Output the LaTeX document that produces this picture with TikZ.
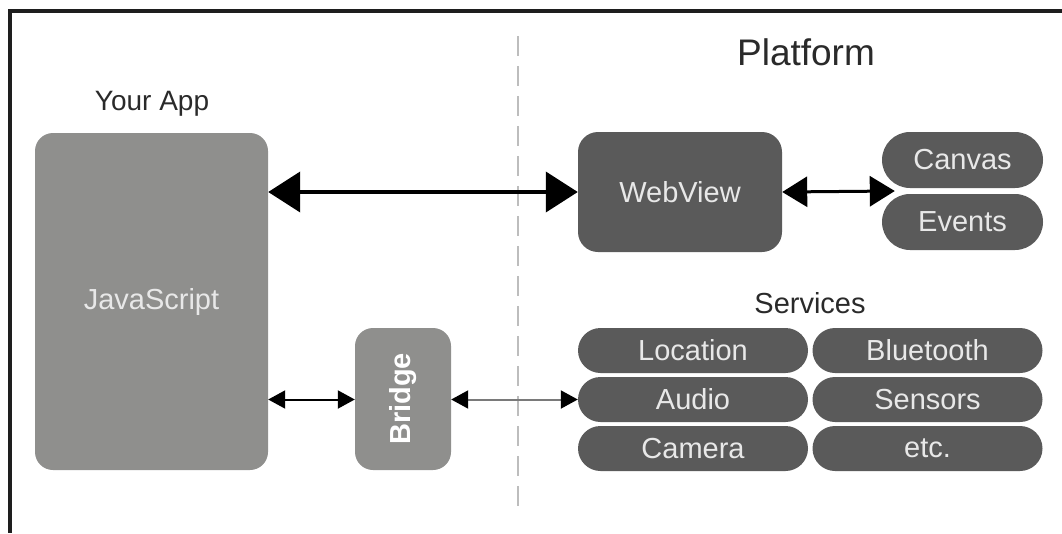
\documentclass[tikz,border=0pt]{standalone}
\usepackage{fontspec}
\setmainfont{Liberation Sans}
\usetikzlibrary{arrows.meta,shapes.misc,calc}
\definecolor{jsgray}{HTML}{8F8F8D}
\definecolor{pfgray}{HTML}{5A5A5A}
\definecolor{boxtext}{HTML}{E8E8E8}
\definecolor{labeltext}{HTML}{2A2A2A}
\definecolor{framecol}{HTML}{1E1E1E}
\definecolor{dashcol}{HTML}{BDBDBD}
\definecolor{linkgray}{HTML}{7A7A7A}

\begin{document}
\begin{tikzpicture}[x=1pt,y=-1pt,
  txt/.style={font=\fontsize{29}{32}\selectfont},
  heading/.style={txt,text=labeltext},
  appbox/.style={txt,fill=jsgray,rounded corners=18pt,inner sep=0pt,text=boxtext},
  viewbox/.style={txt,fill=pfgray,rounded corners=20pt,inner sep=0pt,text=boxtext},
  pill/.style={txt,rounded rectangle,fill=pfgray,inner sep=0pt,text=boxtext,
               minimum height=45pt,minimum width=230pt},
  bigarrow/.style={line width=4pt,{Triangle[length=32pt,width=40pt]}-{Triangle[length=32pt,width=40pt]}},
  midarrow/.style={line width=3pt,{Triangle[length=25pt,width=30pt]}-{Triangle[length=25pt,width=30pt]}},
  smallarrow/.style={line width=2pt,{Triangle[length=17pt,width=18pt,color=black]}-{Triangle[length=17pt,width=18pt,color=black]}},
  frame/.style={draw=framecol,line width=3.5pt},
  divider/.style={draw=dashcol,line width=1.5pt,dash pattern=on 20pt off 10pt}
]
\useasboundingbox (0,0) rectangle (1062,533);

% outer frame (top and left edges)
\draw[frame] (8,11) -- (1062,11);
\draw[frame] (10,9) -- (10,533);

% divider between app side and platform side
\coordinate (divtop) at (518,36);
\coordinate (divbot) at (518,510);
\draw[divider] (divtop) -- (divbot);

% headings
\node[heading,font=\fontsize{37}{40}\selectfont] (platform) at (806,52) {Platform};
\node[heading,font=\fontsize{28}{30}\selectfont] (yourapp) at (152,104) {Your App};
\node[heading] (services) at (810,303) {Services};

% app side
\node[appbox,minimum width=233pt,minimum height=337pt] (js) at (151.5,301.5) {JavaScript};
\node[appbox,minimum width=96pt,minimum height=142pt,text=white] (bridge) at (403,399)
  {\rotatebox{90}{\bfseries Bridge}};

% platform side
\node[viewbox,minimum width=204pt,minimum height=120pt] (wv) at (680,192) {WebView};
\node[pill,minimum width=161pt,minimum height=56pt] (canvas) at (962.5,160) {Canvas};
\node[pill,minimum width=161pt,minimum height=56pt] (events) at (962.5,222) {Events};

\node[pill] (location)  at (693,350.5) {Location};
\node[pill] (bluetooth) at (927.5,350.5) {Bluetooth};
\node[pill] (audio)     at (693,399.5) {Audio};
\node[pill] (sensors)   at (927.5,399.5) {Sensors};
\node[pill] (camera)    at (693,448.5) {Camera};
\node[pill] (etc)       at (927.5,448.5) {etc.};

% connectors
\coordinate (ce) at ($(canvas.west)!0.5!(events.west)+(13,0)$);
\draw[bigarrow] (js.east |- wv.west) -- (wv.west);
\draw[midarrow] (wv.east) -- (ce);
\draw[smallarrow] (js.east |- audio.west) -- (bridge.west |- audio.west);
\draw[smallarrow,draw=linkgray] (bridge.east |- audio.west) -- (audio.west);
\end{tikzpicture}
\end{document}
